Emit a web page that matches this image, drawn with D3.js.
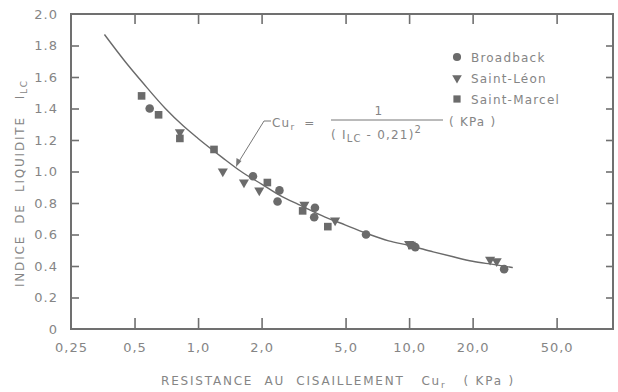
<!DOCTYPE html>
<meta charset="utf-8">
<head>
<style>
body { margin: 0; background: #fff; }
svg { display: block; }
text {
  font-family: "DejaVu Sans", sans-serif;
  fill: #858585;
  white-space: pre;
}
.tick text { font-size: 13px; letter-spacing: 1px; }
.tick line { stroke: #707070; stroke-width: 1.6; }
.frame { fill: none; stroke: #707070; stroke-width: 2; }
.curve { fill: none; stroke: #6a6a6a; stroke-width: 1.4; }
.mark { fill: #6b6b6b; }
.lbl { font-size: 12px; letter-spacing: 1.8px; }
.leg { font-size: 12px; letter-spacing: 1.2px; }
.eq { font-size: 12px; letter-spacing: 1.2px; }
</style>
</head>
<body>
<svg width="618" height="392"></svg>
<script src="https://cdn.jsdelivr.net/npm/d3@7"></script>
<script>

var xTicks = [0.25, 0.5, 1, 2, 5, 10, 20, 50],
    xTickLabels = ["0,25", "0,5", "1,0", "2,0", "5,0", "10,0", "20,0", "50,0"];

var yTicks = [0, 0.2, 0.4, 0.6, 0.8, 1.0, 1.2, 1.4, 1.6, 1.8, 2.0],
    yTickLabels = ["0", "0.2", "0.4", "0.6", "0.8", "1.0", "1.2", "1.4", "1.6", "1.8", "2.0"];

// [Cu, I_LC]
var broadback = [[0.59, 1.40], [1.82, 0.97], [2.43, 0.88], [2.38, 0.81], [3.58, 0.77],
                 [3.55, 0.71], [6.25, 0.60], [10.7, 0.52], [28.2, 0.38]];
var saintLeon = [[0.82, 1.25], [1.31, 1.00], [1.65, 0.93], [1.95, 0.88], [3.19, 0.79],
                 [4.46, 0.69], [10.0, 0.54], [24.2, 0.44], [26.0, 0.43]];
var saintMarcel = [[0.54, 1.48], [0.65, 1.36], [0.82, 1.21], [1.19, 1.14], [2.13, 0.93],
                   [3.13, 0.75], [4.12, 0.65], [10.3, 0.53]];

// fitted curve, points
var curvePts = [[0.36, 1.87], [0.45, 1.70], [0.55, 1.56], [0.7, 1.40], [0.85, 1.29],
                [1.0, 1.21], [1.3, 1.09], [1.6, 1.00], [2.0, 0.92], [2.5, 0.84],
                [3.0, 0.79], [4.0, 0.71], [5.0, 0.66], [6.5, 0.60], [8.0, 0.56],
                [10.0, 0.53], [13.0, 0.49], [16.0, 0.46], [20.0, 0.43], [25.0, 0.41], [31.0, 0.39]];

var series = [
  {name: "Broadback", data: broadback, type: d3.symbolCircle, size: 58, rot: 0},
  {name: "Saint-Léon", data: saintLeon, type: d3.symbolTriangle, size: 44, rot: 180},
  {name: "Saint-Marcel", data: saintMarcel, type: d3.symbolSquare, size: 58, rot: 0}
];

var svg = d3.select("svg");
var pL = 71, pR = 613, pT = 14, pB = 329;

var x = d3.scaleLog().domain([0.25, 92.5]).range([pL, pR]),
    y = d3.scaleLinear().domain([0, 2]).range([pB, pT]);

var xIn = xTicks.slice(1), yIn = yTicks.slice(1, -1);

svg.append("g").attr("transform", "translate(0," + pB + ")")
    .call(d3.axisBottom(x).tickValues(xTicks).tickSize(-11).tickPadding(14)
      .tickFormat(function(d, i) { return xTickLabels[i]; }))
    .call(function(g) { g.select(".domain").remove(); })
    .call(function(g) { g.selectAll(".tick line").filter(function(d) { return d === 0.25; }).remove(); })
    .selectAll("text").attr("font-family", null).attr("font-size", null).attr("fill", null);

svg.append("g").attr("transform", "translate(0," + pT + ")")
    .call(d3.axisTop(x).tickValues(xIn).tickSize(-10).tickFormat(""))
    .call(function(g) { g.select(".domain").remove(); });

svg.append("g").attr("transform", "translate(" + pL + ",0)")
    .call(d3.axisLeft(y).tickValues(yTicks).tickSize(-8).tickPadding(13)
      .tickFormat(function(d, i) { return yTickLabels[i]; }))
    .call(function(g) { g.select(".domain").remove(); })
    .call(function(g) { g.selectAll(".tick line").filter(function(d, i) { return i === 0 || i === yTicks.length - 1; }).remove(); })
    .selectAll("text").attr("font-family", null).attr("font-size", null).attr("fill", null);

svg.append("g").attr("transform", "translate(" + pR + ",0)")
    .call(d3.axisRight(y).tickValues(yIn).tickSize(-7).tickFormat(""))
    .call(function(g) { g.select(".domain").remove(); });

svg.append("rect").attr("class", "frame")
    .attr("x", pL).attr("y", pT).attr("width", pR - pL).attr("height", pB - pT);

// curve
svg.append("path").attr("class", "curve")
    .attr("d", d3.line().curve(d3.curveMonotoneX)
      .x(function(d) { return x(d[0]); }).y(function(d) { return y(d[1]); })(curvePts));

// points
series.forEach(function(s) {
  svg.append("g").selectAll("path").data(s.data).enter().append("path")
      .attr("class", "mark")
      .attr("d", d3.symbol().type(s.type).size(s.size))
      .attr("transform", function(d) { return "translate(" + x(d[0]) + "," + y(d[1]) + ") rotate(" + s.rot + ")"; });
});

// legend
var leg = svg.append("g").attr("transform", "translate(457,57)");
series.forEach(function(s, i) {
  var g = leg.append("g").attr("transform", "translate(0," + [0, 21, 42][i] + ")");
  g.append("path").attr("class", "mark")
      .attr("d", d3.symbol().type(s.type).size(s.size * 0.9))
      .attr("transform", "rotate(" + s.rot + ")");
  g.append("text").attr("class", "leg").attr("x", 14).attr("dy", "0.38em").text(s.name);
});

// equation with leader arrow
var eq = svg.append("g");
eq.append("path").attr("fill", "none").attr("stroke", "#777").attr("stroke-width", 1)
    .attr("d", "M271,121 L264,121 L238,163");
eq.append("path").attr("fill", "#777")
    .attr("d", "M236,167 L236.5,158 L241.5,161 Z");
var t1 = eq.append("text").attr("class", "eq").attr("x", 272).attr("y", 127);
t1.append("tspan").text("Cu");
t1.append("tspan").attr("dy", 3).attr("font-size", 9).text("r");
t1.append("tspan").attr("dy", -3).attr("dx", 9).text("=");
eq.append("line").attr("x1", 331).attr("x2", 443).attr("y1", 120).attr("y2", 120)
    .attr("stroke", "#777").attr("stroke-width", 1);
eq.append("text").attr("class", "eq").attr("x", 379).attr("y", 115).attr("text-anchor", "middle").text("1");
var t2 = eq.append("text").attr("class", "eq").attr("x", 331).attr("y", 139);
t2.append("tspan").text("( I");
t2.append("tspan").attr("dy", 3).attr("font-size", 10).text("LC");
t2.append("tspan").attr("dy", -3).text(" - 0,21)");
t2.append("tspan").attr("dy", -6).attr("font-size", 10).text("2");
eq.append("text").attr("class", "eq").attr("x", 449).attr("y", 126).text("( KPa )");

// axis titles
var xt = svg.append("text").attr("class", "lbl").attr("x", 161).attr("y", 385);
xt.append("tspan").text("RESISTANCE  AU  CISAILLEMENT   Cu");
xt.append("tspan").attr("dy", 3).attr("font-size", 9).text("r");
xt.append("tspan").attr("dy", -3).text("   ( KPa )");

var yt = svg.append("text").attr("class", "lbl")
    .attr("transform", "translate(24,287) rotate(-90)");
yt.append("tspan").text("INDICE  DE  LIQUIDITE   I");
yt.append("tspan").attr("dy", 3).attr("font-size", 9).text("LC");

</script>
</body>
